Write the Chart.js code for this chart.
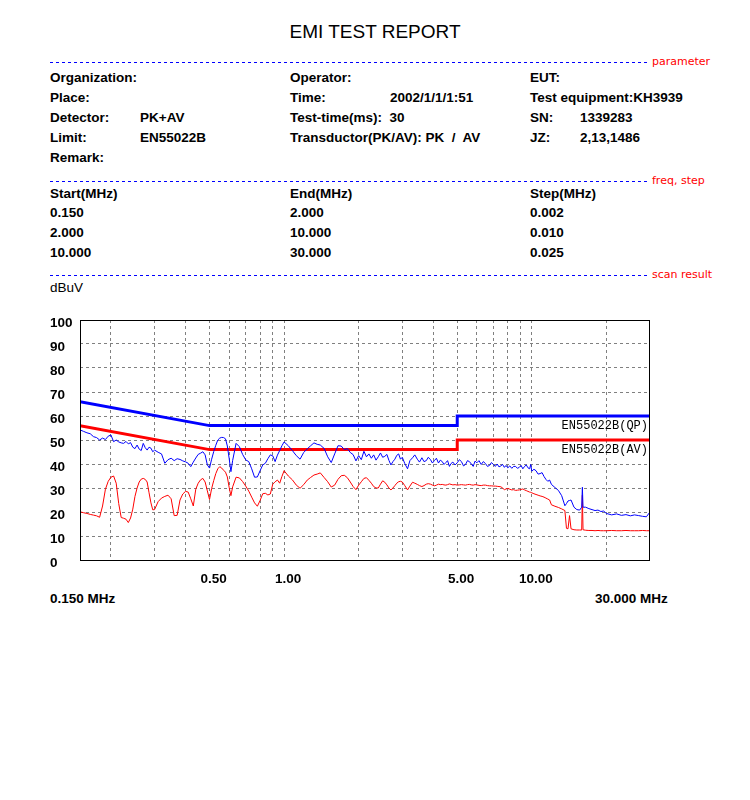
<!DOCTYPE html>
<html>
<head>
<meta charset="utf-8">
<title>EMI TEST REPORT</title>
<script src="https://cdn.jsdelivr.net/npm/chart.js@4.4.1/dist/chart.umd.min.js"></script>
<style>
  body { margin: 0; background: #fff; }
  #page { position: relative; width: 750px; height: 800px; background: #fff;
          font: bold 13.5px "Liberation Sans", Arial, sans-serif; color: #000; }
  .t { position: absolute; line-height: 16px; white-space: pre; }
  .title { position: absolute; left: 0; width: 750px; top: 21px; text-align: center; line-height: 22px;
           font: 19px "Liberation Sans", Arial, sans-serif; }
  .sec { position: absolute; left: 652px; color: #ff0000; font: 11px "DejaVu Sans", sans-serif; line-height: 14px; }
  #chartBox { position: absolute; left: 50px; top: 310px; width: 600px; height: 280px; }
  svg { position: absolute; left: 0; top: 0; }
</style>
</head>
<body>
<div id="page">
  <div class="title">EMI TEST REPORT</div>

  <svg width="750" height="300">
    <line x1="50" y1="62.5" x2="648" y2="62.5" stroke="#0000ff" stroke-width="1" stroke-dasharray="3,3"/>
    <line x1="50" y1="181.5" x2="648" y2="181.5" stroke="#0000ff" stroke-width="1" stroke-dasharray="3,3"/>
    <line x1="50" y1="275.5" x2="648" y2="275.5" stroke="#0000ff" stroke-width="1" stroke-dasharray="3,3"/>
  </svg>
  <div class="sec" style="top:55px">parameter</div>
  <div class="sec" style="top:174px">freq, step</div>
  <div class="sec" style="top:268px">scan result</div>

  <div class="t" style="left:50px;top:70px">Organization:</div>
  <div class="t" style="left:290px;top:70px">Operator:</div>
  <div class="t" style="left:530px;top:70px">EUT:</div>

  <div class="t" style="left:50px;top:90px">Place:</div>
  <div class="t" style="left:290px;top:90px">Time:</div>
  <div class="t" style="left:390px;top:90px">2002/1/1/1:51</div>
  <div class="t" style="left:530px;top:90px">Test equipment:KH3939</div>

  <div class="t" style="left:50px;top:110px">Detector:</div>
  <div class="t" style="left:140px;top:110px">PK+AV</div>
  <div class="t" style="left:290px;top:110px">Test-time(ms):  30</div>
  <div class="t" style="left:530px;top:110px">SN:</div>
  <div class="t" style="left:580px;top:110px">1339283</div>

  <div class="t" style="left:50px;top:130px">Limit:</div>
  <div class="t" style="left:140px;top:130px">EN55022B</div>
  <div class="t" style="left:290px;top:130px">Transductor(PK/AV): PK  /  AV</div>
  <div class="t" style="left:530px;top:130px">JZ:</div>
  <div class="t" style="left:580px;top:130px">2,13,1486</div>

  <div class="t" style="left:50px;top:150px">Remark:</div>

  <div class="t" style="left:50px;top:186px">Start(MHz)</div>
  <div class="t" style="left:290px;top:186px">End(MHz)</div>
  <div class="t" style="left:530px;top:186px">Step(MHz)</div>
  <div class="t" style="left:50px;top:205px">0.150</div>
  <div class="t" style="left:290px;top:205px">2.000</div>
  <div class="t" style="left:530px;top:205px">0.002</div>
  <div class="t" style="left:50px;top:225px">2.000</div>
  <div class="t" style="left:290px;top:225px">10.000</div>
  <div class="t" style="left:530px;top:225px">0.010</div>
  <div class="t" style="left:50px;top:245px">10.000</div>
  <div class="t" style="left:290px;top:245px">30.000</div>
  <div class="t" style="left:530px;top:245px">0.025</div>

  <div class="t" style="left:50px;top:280px;font-weight:normal">dBuV</div>

  <div id="chartBox"><canvas id="emiChart" width="600" height="280"></canvas></div>

  <div class="t" style="left:50px;top:591px">0.150 MHz</div>
  <div class="t" style="left:595px;top:591px">30.000 MHz</div>
</div>

<script>
// scan frequencies (MHz)
const freqs = [
  0.150, 0.155, 0.160, 0.165, 0.170, 0.175, 0.180, 0.185, 0.190, 0.195,
  0.200, 0.205, 0.210, 0.215, 0.220, 0.225, 0.230, 0.235, 0.240, 0.245,
  0.250, 0.255, 0.260, 0.265, 0.270, 0.275, 0.280, 0.285, 0.290, 0.295,
  0.300, 0.31, 0.32, 0.33, 0.34, 0.35, 0.36, 0.37, 0.38, 0.39,
  0.40, 0.41, 0.42, 0.43, 0.44, 0.45, 0.46, 0.47, 0.48, 0.49,
  0.50, 0.51, 0.52, 0.53, 0.54, 0.55, 0.56, 0.57, 0.58, 0.59,
  0.60, 0.61, 0.62, 0.64, 0.66, 0.68, 0.70, 0.72, 0.74, 0.76,
  0.78, 0.80, 0.82, 0.84, 0.86, 0.88, 0.90, 0.92, 0.94, 0.96,
  0.98, 1.00, 1.04, 1.08, 1.12, 1.16, 1.20, 1.24, 1.28, 1.32,
  1.36, 1.40, 1.45, 1.50, 1.55, 1.60, 1.65, 1.70, 1.75, 1.80,
  1.85, 1.90, 1.95,
  2.00, 2.05, 2.10, 2.15, 2.20, 2.25, 2.30, 2.35, 2.40, 2.45,
  2.50, 2.55, 2.60, 2.65, 2.70, 2.75, 2.80, 2.85, 2.90, 2.95,
  3.00, 3.07, 3.15, 3.22, 3.30, 3.37, 3.45, 3.52, 3.60, 3.67,
  3.75, 3.82, 3.90, 3.97, 4.05, 4.12, 4.20, 4.27, 4.35, 4.42,
  4.50, 4.57, 4.65, 4.72, 4.80, 4.90, 5.00, 5.10, 5.20, 5.30,
  5.40, 5.50, 5.60, 5.70, 5.80, 5.90, 6.00, 6.12, 6.25, 6.37,
  6.50, 6.62, 6.75, 6.87, 7.00, 7.12, 7.25, 7.37, 7.50, 7.62,
  7.75, 7.87, 8.00, 8.15, 8.30, 8.45, 8.60, 8.75, 8.90, 9.05,
  9.20, 9.35, 9.50, 9.65, 9.80, 9.90, 10.0, 10.2, 10.4, 10.6,
  10.8, 11.0, 11.2, 11.4, 11.6, 11.8, 12.0,
  12.4, 12.8, 13.2, 13.6, 13.8, 14.0, 14.2, 14.4,
  14.8, 15.2, 15.6, 15.9, 16.0, 16.1, 16.5, 17.0, 17.5, 18.0,
  18.5, 19.0, 19.5, 20.0, 21, 22, 23, 24, 25, 26,
  27, 28, 29, 30
];

// peak detector trace (dBuV)
const pkValues = [
  54.2, 53.6, 53.0, 52.6, 51.4, 51.0, 50.0, 50.8, 50.2, 51.6,
  52.1, 49.3, 50.0, 49.2, 48.8, 48.6, 49.4, 48.4, 48.9, 47.0,
  46.4, 47.9, 46.2, 45.6, 48.6, 46.8, 45.8, 47.0, 46.6, 45.1,
  45.8, 44.9, 44.2, 40.3, 41.8, 42.4, 41.4, 42.2, 41.9, 41.3,
  40.9, 40.3, 38.9, 40.8, 42.5, 44.0, 44.5, 45.1, 43.8, 39.6,
  38.3, 42.0, 45.2, 47.8, 50.0, 50.8, 51.1, 51.0, 50.5, 47.5,
  42.4, 36.8, 41.5, 48.6, 47.2, 44.0, 41.7, 41.0, 38.0, 34.5,
  34.6, 37.2, 39.6, 40.3, 42.2, 43.8, 43.4, 41.0, 43.7, 45.6,
  47.6, 49.2, 47.6, 45.6, 43.5, 42.0, 44.8, 46.3, 47.6, 48.8,
  48.2, 47.9, 46.5, 43.0, 40.6, 44.2, 47.6, 47.5, 46.0, 46.4,
  44.8, 43.9, 41.3,
  43.5, 41.8, 45.3, 43.0, 44.2, 42.4, 43.8, 41.6, 43.0, 44.6,
  42.8, 43.2, 44.0, 41.5, 39.6, 41.0, 42.0, 43.6, 44.2, 42.0,
  42.8, 40.2, 38.0, 41.4, 42.6, 43.8, 42.0, 40.8, 42.6, 41.0,
  41.4, 42.8, 41.8, 40.4, 41.5, 42.4, 40.4, 41.6, 41.0, 39.8,
  40.6, 41.4, 39.0, 40.2, 40.8, 39.6, 40.5, 41.8, 41.0, 39.2,
  39.8, 41.4, 41.0, 40.0, 39.0, 41.2, 40.5, 41.4, 39.8, 41.0,
  40.2, 39.0, 39.4, 40.6, 39.8, 39.0, 40.0, 38.8, 39.2, 39.8,
  38.6, 39.4, 38.4, 39.2, 38.2, 39.0, 39.0, 38.2, 38.6, 39.4,
  38.0, 39.0, 39.6, 38.4, 38.0, 39.8, 37.0, 37.8, 37.2, 35.8,
  36.0, 36.4, 34.8, 33.6, 32.8, 33.3, 31.5,
  30.2, 29.0, 26.8, 22.6, 23.5, 24.6, 24.8, 25.0,
  22.0, 21.0, 20.8, 22.0, 30.3, 22.0, 22.0, 21.4, 21.0, 20.6,
  20.8, 20.2, 20.4, 19.4, 18.8, 19.2, 18.6, 18.9, 18.4, 18.8,
  18.5, 18.2, 18.0, 20.0
];

// average detector trace (dBuV)
const avValues = [
  20.1, 19.7, 19.4, 19.0, 18.7, 18.4, 17.8, 22.5, 29.5, 32.8,
  34.5, 35.0, 32.0, 23.5, 17.7, 17.4, 17.0, 15.6, 17.5, 21.2,
  26.5, 30.0, 32.5, 33.7, 34.0, 33.6, 32.5, 28.0, 23.8, 20.9,
  21.0, 24.3, 25.8, 26.5, 27.0, 25.5, 18.5, 18.6, 25.0, 27.5,
  28.6, 28.3, 25.5, 22.5, 29.5, 32.0, 33.4, 34.0, 32.5, 28.8,
  25.2, 29.8, 33.1, 36.0, 38.0, 38.9, 38.3, 37.4, 36.6, 34.6,
  30.3, 26.8, 30.5, 34.5, 34.2, 32.7, 30.8, 28.7, 26.2, 23.8,
  22.4, 24.8, 27.6, 27.8, 27.1, 27.5, 31.6, 32.6, 33.3, 32.0,
  34.8, 37.2, 35.0, 33.4, 31.2, 29.9, 31.4, 33.3, 34.4, 35.4,
  35.8, 36.3, 34.4, 32.6, 30.4, 31.2, 33.6, 35.1, 35.3, 34.3,
  32.5, 30.6, 29.3,
  31.2, 32.6, 34.0, 34.3, 33.2, 32.0, 30.6, 30.0, 30.0, 31.6,
  33.0, 32.4, 31.3, 30.0, 29.2, 30.0, 31.0, 32.0, 32.6, 32.8,
  32.5, 31.0, 29.2, 30.8, 32.4, 32.0, 31.5, 31.0, 30.6, 31.0,
  31.6, 31.8, 31.6, 31.2, 30.9, 31.2, 31.6, 31.4, 31.5, 31.3,
  31.2, 31.4, 31.7, 31.5, 31.3, 31.4, 31.2, 31.3, 31.4, 31.3,
  31.2, 31.4, 31.5, 31.3, 31.2, 31.4, 31.3, 31.1, 31.0, 31.2,
  31.2, 31.0, 30.9, 30.9, 30.8, 30.8, 30.7, 30.6, 30.5, 30.0,
  29.3, 29.6, 29.8, 29.5, 29.2, 29.3, 29.0, 29.1, 29.2, 29.4,
  29.6, 29.2, 28.9, 28.6, 28.3, 28.2, 28.0, 27.6, 27.3, 27.0,
  26.7, 26.5, 26.2, 25.8, 25.4, 25.0, 23.0,
  22.4, 21.9, 21.3, 20.6, 13.2, 13.0, 18.5, 13.0,
  12.6, 12.5, 12.5, 12.5, 27.0, 12.6, 12.4, 12.3, 12.3, 12.2,
  12.3, 12.2, 12.2, 12.2, 12.3, 12.2, 12.2, 12.3, 12.2, 12.2,
  12.2, 12.3, 12.2, 12.2
];

// EN55022B limits
const limitFreqs = [0.15, 0.5, 5, 5, 30];
const qpLimit = [66, 56, 56, 60, 60];
const avLimit = [56, 46, 46, 50, 50];
const limitNames = ['EN55022B(QP)', 'EN55022B(AV)'];

// axis ticks
const gridFreqs = [0.2, 0.3, 0.4, 0.5, 0.6, 0.7, 0.8, 0.9, 1, 2, 3, 4, 5, 6, 7, 8, 9, 10, 20];
const labelFreqs = [0.5, 1, 5, 10];

const pts = (xs, ys) => xs.map((x, i) => ({ x: x, y: ys[i] }));
const tickFont = { family: '"Liberation Sans", Arial, sans-serif', size: 13.5, weight: 'bold' };

const framePlugin = {
  id: 'frame',
  afterDatasetsDraw(chart) {
    const { ctx, chartArea: a, scales } = chart;
    ctx.save();
    ctx.strokeStyle = '#000';
    ctx.lineWidth = 1;
    ctx.strokeRect(a.left + 0.5, a.top + 0.5, a.right - a.left - 1, a.bottom - a.top);
    ctx.fillStyle = '#000';
    ctx.font = '12px "Liberation Mono", "DejaVu Sans Mono", monospace';
    ctx.textAlign = 'right';
    ctx.textBaseline = 'top';
    ctx.fillText(limitNames[0], a.right - 2, scales.y.getPixelForValue(qpLimit[4]) + 4);
    ctx.fillText(limitNames[1], a.right - 2, scales.y.getPixelForValue(avLimit[4]) + 4);
    ctx.restore();
  }
};

new Chart(document.getElementById('emiChart'), {
  type: 'line',
  data: {
    datasets: [
      { label: 'PK', data: pts(freqs, pkValues), borderColor: '#0000ff', borderWidth: 1 },
      { label: 'AV', data: pts(freqs, avValues), borderColor: '#ff0000', borderWidth: 1 },
      { label: limitNames[0], data: pts(limitFreqs, qpLimit), borderColor: '#0000ff', borderWidth: 3 },
      { label: limitNames[1], data: pts(limitFreqs, avLimit), borderColor: '#ff0000', borderWidth: 3 }
    ]
  },
  options: {
    responsive: false,
    animation: false,
    elements: { point: { radius: 0 }, line: { tension: 0, fill: false } },
    layout: { padding: { top: 10, left: 0, right: 0, bottom: 0 } },
    plugins: { legend: { display: false }, tooltip: { enabled: false } },
    scales: {
      x: {
        type: 'logarithmic',
        min: 0.15,
        max: 30,
        afterBuildTicks: (s) => { s.ticks = gridFreqs.map(v => ({ value: v })); },
        afterFit: (s) => { s.height = 30; },
        ticks: {
          autoSkip: false, maxRotation: 0, color: '#000', font: tickFont,
          padding: 11, labelOffset: 4,
          callback: (v) => labelFreqs.includes(v) ? v.toFixed(2) : ''
        },
        grid: { color: '#808080', lineWidth: 1, drawTicks: false },
        border: { display: false, dash: [3, 3] }
      },
      y: {
        min: 0,
        max: 100,
        afterFit: (s) => { s.width = 30; },
        ticks: { stepSize: 10, color: '#000', font: tickFont, crossAlign: 'far', padding: 0, labelOffset: 3 },
        grid: { color: '#808080', lineWidth: 1, drawTicks: false },
        border: { display: false, dash: [3, 3] }
      }
    }
  },
  plugins: [framePlugin]
});
</script>
</body>
</html>
